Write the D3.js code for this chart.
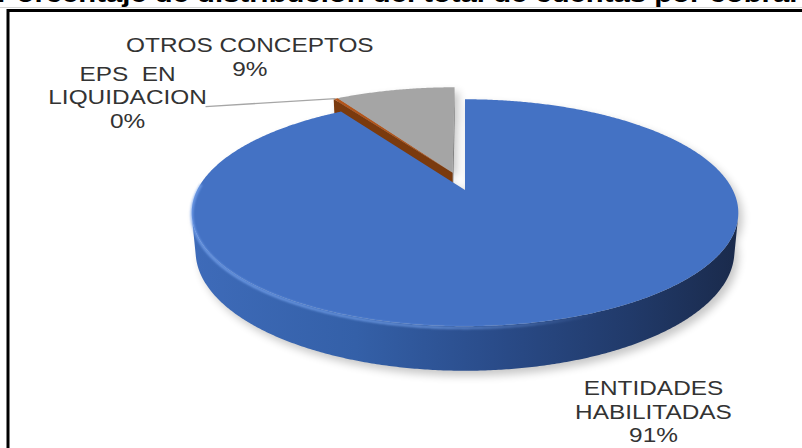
<!DOCTYPE html>
<html>
<head>
<meta charset="utf-8">
<script src="https://cdn.jsdelivr.net/npm/d3@7"></script>
<style>
  html, body { margin: 0; padding: 0; background: #fff; overflow: hidden; }
  text { font-family: "Liberation Sans", Arial, sans-serif; }
</style>
</head>
<body>
<svg id="chart" width="802" height="448"></svg>
<script>
// ---- data ----
const categories = ["ENTIDADES HABILITADAS", "EPS  EN LIQUIDACION", "OTROS CONCEPTOS"];
const labelLines = [["ENTIDADES", "HABILITADAS"], ["EPS  EN", "LIQUIDACION"], ["OTROS CONCEPTOS"]];
const values = [90.9, 0.3, 8.8];
const explodedSlices = [false, true, true];
const titleText = "Porcentaje de distribución del total de cuentas por cobrar";

// ---- styles ----
const topColors = ["#4472C4", "#B4551A", "#A5A5A5"];
const faceColors = ["#2E4F8C", "#7A3A0E", "#7F7F7F"];
const textColor = "#333333";

// ---- 3D view ----
const view = { cx: 465, cy: 190, focal: 1221, dist: 4.56, tilt: 24 * Math.PI / 180, thick: 0.156 };
const explodeDist = 0.17;
const textStretch = 1.22;   // horizontal stretch applied to every text
const fontSize = 20;

const svg = d3.select("#chart");
const defs = svg.append("defs");

const sT = Math.sin(view.tilt), cT = Math.cos(view.tilt);
const camY = -view.dist * cT;

function project(X, Y, Z) {
  const d = view.dist + cT * Y - sT * Z;
  return [view.cx + view.focal * X / d, view.cy - view.focal * (sT * Y + cT * Z) / d];
}
function rimPt(theta, z, off) {
  return project(off[0] + Math.sin(theta), off[1] + Math.cos(theta), z);
}
const line = d3.line();

// pie layout: clockwise from 12 o'clock, data order
const arcs = d3.pie().sort(null).value(d => d)(values);
const total = d3.sum(values);
const pct = d3.format(".0%");

// exploded group shares one offset along the bisector of its combined span
const exArcs = arcs.filter((a, i) => explodedSlices[i]);
const exMid = (d3.min(exArcs, a => a.startAngle) + d3.max(exArcs, a => a.endAngle)) / 2;
const exOff = [explodeDist * Math.sin(exMid), explodeDist * Math.cos(exMid)];
arcs.forEach((a, i) => { a.off = explodedSlices[i] ? exOff : [0, 0]; a.i = i; });

function sampleAngles(a0, a1, step = 0.008) {
  const n = Math.max(2, Math.ceil((a1 - a0) / step));
  return d3.range(n + 1).map(k => a0 + (a1 - a0) * k / n);
}
function topPath(a) {
  const pts = [project(a.off[0], a.off[1], 0)];
  sampleAngles(a.startAngle, a.endAngle).forEach(t => pts.push(rimPt(t, 0, a.off)));
  return line(pts) + "Z";
}
function outerVisible(t, off) {
  const X = off[0] + Math.sin(t), Y = off[1] + Math.cos(t);
  return Math.sin(t) * (0 - X) + Math.cos(t) * (camY - Y) > 0;
}
function sidePaths(a) {
  // only the outward-facing stretches of the curved wall
  const ts = sampleAngles(a.startAngle, a.endAngle);
  const runs = [];
  let cur = null;
  ts.forEach(t => {
    if (outerVisible(t, a.off)) { if (!cur) { cur = []; runs.push(cur); } cur.push(t); }
    else cur = null;
  });
  return runs.filter(r => r.length > 1).map(r => {
    const pts = r.map(t => rimPt(t, 0, a.off)).concat(r.slice().reverse().map(t => rimPt(t, -view.thick, a.off)));
    return line(pts) + "Z";
  });
}
function fullSidePath(a) {
  const ts = sampleAngles(a.startAngle, a.endAngle);
  const pts = ts.map(t => rimPt(t, 0, a.off)).concat(ts.slice().reverse().map(t => rimPt(t, -view.thick, a.off)));
  return line(pts) + "Z";
}
function radialFaces(a) {
  const faces = [];
  [[a.startAngle, -1], [a.endAngle, 1]].forEach(([t, dir]) => {
    const nX = dir * Math.cos(t), nY = -dir * Math.sin(t);
    const vis = nX * (0 - a.off[0]) + nY * (camY - a.off[1]) > 0;
    if (!vis) return;
    const pts = [
      project(a.off[0], a.off[1], 0),
      rimPt(t, 0, a.off),
      rimPt(t, -view.thick, a.off),
      project(a.off[0], a.off[1], -view.thick)
    ];
    faces.push(line(pts) + "Z");
  });
  return faces;
}

// ---- gradients & filters ----
const xLeft = d3.min(d3.range(0, 2 * Math.PI, 0.01), t => rimPt(t, 0, [0, 0])[0]);
const xRight = d3.max(d3.range(0, 2 * Math.PI, 0.01), t => rimPt(t, 0, [0, 0])[0]);

const sideGrad = defs.append("linearGradient").attr("id", "sideBlue")
  .attr("gradientUnits", "userSpaceOnUse").attr("x1", xLeft).attr("x2", xRight).attr("y1", 0).attr("y2", 0);
[[0, "#3E6BB9"], [0.3, "#3460A8"], [0.55, "#2A4C8A"], [0.8, "#213A6A"], [1, "#1A2A4B"]]
  .forEach(([o, c]) => sideGrad.append("stop").attr("offset", o).attr("stop-color", c));

const rimGrad = defs.append("linearGradient").attr("id", "rimLight")
  .attr("gradientUnits", "userSpaceOnUse").attr("x1", xLeft).attr("x2", xRight).attr("y1", 0).attr("y2", 0);
[[0, 0.85], [0.45, 0.7], [0.75, 0.0], [1, 0]]
  .forEach(([o, op]) => rimGrad.append("stop").attr("offset", o).attr("stop-color", "#79A6F0").attr("stop-opacity", op));

defs.append("filter").attr("id", "shadowBlur").attr("x", "-20%").attr("y", "-20%").attr("width", "140%").attr("height", "140%")
  .append("feGaussianBlur").attr("stdDeviation", 4);
defs.append("filter").attr("id", "softEdge")
  .append("feGaussianBlur").attr("stdDeviation", 0.8);

// ---- title (runs off the top of the frame) ----
svg.append("text")
  .attr("transform", `translate(-3,2) scale(${textStretch},1)`)
  .attr("font-size", 24).attr("font-weight", "bold").attr("fill", "#000")
  .text(titleText);

svg.append("line").attr("x1", 0).attr("x2", 802).attr("y1", 7.5).attr("y2", 7.5)
  .attr("stroke", "#d4d4d4").attr("stroke-width", 1);

svg.append("rect").attr("x", 8).attr("y", 10.5).attr("width", 900).attr("height", 600)
  .attr("fill", "none").attr("stroke", "#000").attr("stroke-width", 3);

// ---- drop shadow ----
const shadow = svg.append("g").attr("transform", "translate(4,5)")
  .attr("filter", "url(#shadowBlur)").attr("opacity", 0.22);
arcs.forEach(a => {
  shadow.append("path").attr("d", fullSidePath(a)).attr("fill", "#000");
  shadow.append("path").attr("d", topPath(a)).attr("fill", "#000");
});

// ---- slices, back to front ----
const order = arcs.slice().sort((p, q) => {
  const m = a => (a.startAngle + a.endAngle) / 2;
  const depth = a => a.off[1] + Math.cos(m(a));
  return depth(q) - depth(p);
});

const pieG = svg.append("g");
order.forEach(a => {
  const g = pieG.append("g").attr("class", "slice");
  radialFaces(a).forEach(d => g.append("path").attr("d", d).attr("fill", faceColors[a.i]));
  sidePaths(a).forEach(d => g.append("path").attr("d", d)
    .attr("fill", a.i === 0 ? "url(#sideBlue)" : faceColors[a.i]));
  g.append("path").attr("d", topPath(a)).attr("fill", topColors[a.i]);
  if (a.i === 0) {
    // light bevel along the near rim
    const ts = sampleAngles(Math.PI * 0.58, Math.PI * 1.52);
    g.append("path").attr("d", line(ts.map(t => rimPt(t, -0.006, a.off))))
      .attr("fill", "none").attr("stroke", "url(#rimLight)").attr("stroke-width", 2.4)
      .attr("filter", "url(#softEdge)");
  }
});

// ---- labels ----
const labelOffsets = [[95, 76], [-208, -18], [-145, -38]];
const lineGap = 23.5;
arcs.forEach(a => {
  const mid = (a.startAngle + a.endAngle) / 2;
  const rim = rimPt(mid, 0, a.off);
  const x = rim[0] + labelOffsets[a.i][0];
  const y0 = rim[1] + labelOffsets[a.i][1];
  const lines = labelLines[a.i].concat([pct(a.value / total)]);
  lines.forEach((s, k) => {
    svg.append("text")
      .attr("transform", `translate(${x},${y0 + k * lineGap}) scale(${textStretch},1)`)
      .attr("text-anchor", "middle").attr("font-size", fontSize).attr("fill", textColor)
      .style("white-space", "pre").attr("xml:space", "preserve")
      .text(s);
  });
  if (a.i === 1) {
    svg.append("path")
      .attr("d", line([[rim[0] - 130, rim[1] + 8], rim]))
      .attr("fill", "none").attr("stroke", "#A6A6A6").attr("stroke-width", 1.3);
  }
});
</script>
</body>
</html>
